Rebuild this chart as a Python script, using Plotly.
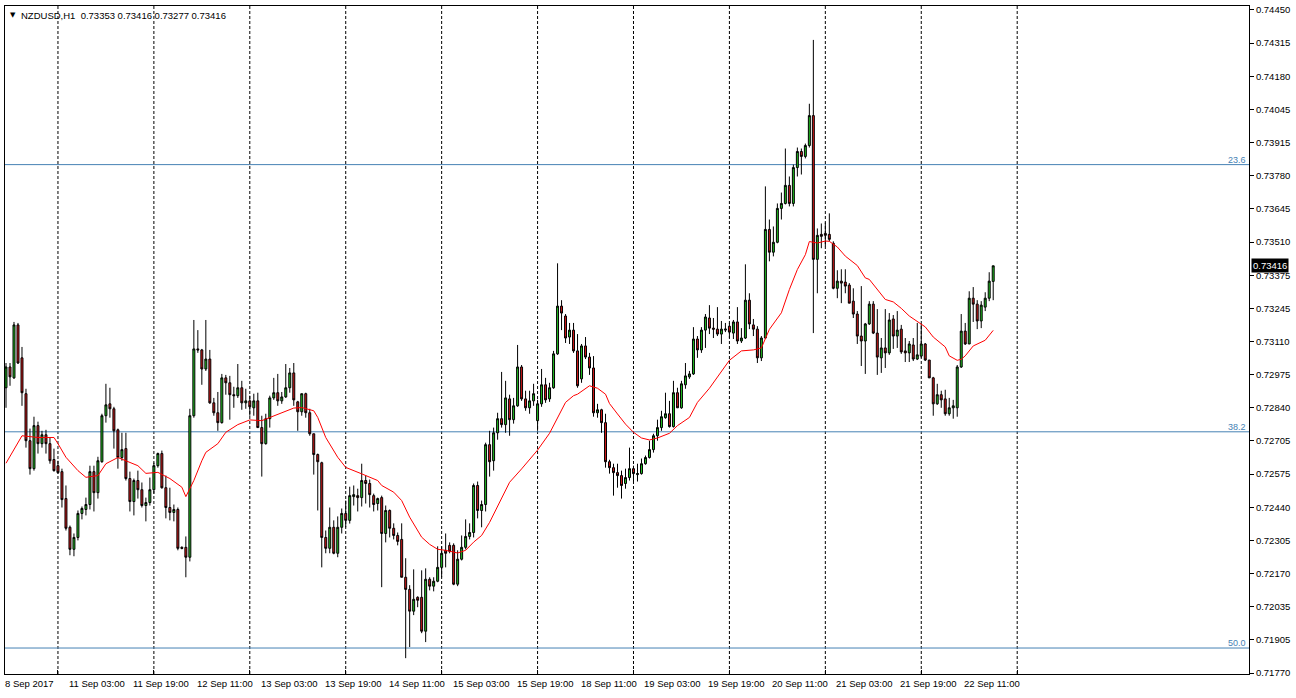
import plotly.graph_objects as go

# ---------------- data ----------------
open_ = [0.72923,0.73007,0.72963,0.73177,0.73044,0.72899,0.72709,0.72596,0.72770,0.72697,
0.72733,0.72697,0.72633,0.72608,0.72584,0.72475,0.72359,0.72270,0.72318,0.72415,
0.72431,0.72451,0.72584,0.72499,0.72624,0.72810,0.72858,0.72838,0.72753,0.72641,
0.72677,0.72556,0.72463,0.72548,0.72511,0.72447,0.72459,0.72511,0.72608,0.72657,
0.72519,0.72439,0.72419,0.72431,0.72278,0.72278,0.72238,0.72810,0.73080,0.73076,
0.72999,0.73039,0.72862,0.72822,0.72782,0.72963,0.72943,0.72895,0.72891,0.72923,
0.72862,0.72870,0.72842,0.72870,0.72762,0.72697,0.72798,0.72882,0.72903,0.72870,
0.72886,0.72923,0.72983,0.72866,0.72826,0.72899,0.72822,0.72737,0.72653,0.72620,
0.72318,0.72274,0.72359,0.72254,0.72359,0.72415,0.72387,0.72483,0.72487,0.72479,
0.72548,0.72536,0.72487,0.72455,0.72479,0.72334,0.72427,0.72355,0.72326,0.72310,
0.72157,0.72108,0.72020,0.72076,0.72076,0.71939,0.72149,0.72121,0.72141,0.72197,
0.72266,0.72286,0.72286,0.72129,0.72230,0.72278,0.72322,0.72338,0.72528,0.72427,
0.72451,0.72693,0.72628,0.72741,0.72798,0.72774,0.72878,0.72794,0.72850,0.73007,
0.72878,0.72842,0.72870,0.72790,0.72858,0.72935,0.72878,0.72923,0.73060,0.73253,
0.73213,0.73128,0.73156,0.73072,0.72959,0.73092,0.73047,0.73003,0.72822,0.72834,
0.72782,0.72624,0.72600,0.72580,0.72568,0.72536,0.72560,0.72596,0.72572,0.72576,
0.72616,0.72641,0.72673,0.72729,0.72762,0.72802,0.72818,0.72766,0.72903,0.72842,
0.72935,0.72967,0.72979,0.73120,0.73076,0.73156,0.73205,0.73164,0.73160,0.73140,
0.73156,0.73172,0.73144,0.73189,0.73112,0.73124,0.73277,0.73177,0.73160,0.73044,
0.73124,0.73563,0.73471,0.73511,0.73648,0.73668,0.73741,0.73668,0.73813,0.73878,
0.73858,0.73902,0.74023,0.73442,0.73543,0.73547,0.73543,0.73507,0.73325,0.73354,
0.73350,0.73338,0.73273,0.73221,0.73132,0.73112,0.73181,0.73261,0.73144,0.73044,
0.73084,0.73064,0.73201,0.73132,0.73160,0.73072,0.73064,0.73096,0.73039,0.73051,
0.73100,0.73035,0.72963,0.72858,0.72895,0.72878,0.72818,0.72842,0.72842,0.73007,
0.73152,0.73100,0.73285,0.73261,0.73193,0.73249,0.73285,0.73353]

high_ = [0.73023,0.73023,0.73189,0.73185,0.73088,0.72919,0.72758,0.72806,0.72786,0.72749,
0.72753,0.72721,0.72677,0.72628,0.72596,0.72528,0.72366,0.72334,0.72427,0.72443,
0.72479,0.72608,0.72608,0.72644,0.72818,0.72939,0.72923,0.72846,0.72758,0.72741,
0.72741,0.72584,0.72556,0.72588,0.72540,0.72479,0.72560,0.72620,0.72661,0.72669,
0.72568,0.72519,0.72451,0.72439,0.72282,0.72322,0.72838,0.73197,0.73156,0.73080,
0.73197,0.73076,0.72882,0.72906,0.72979,0.72975,0.72971,0.72927,0.73019,0.72951,
0.72919,0.72891,0.72899,0.72903,0.72810,0.72818,0.72891,0.72963,0.72979,0.72906,
0.73019,0.73003,0.73023,0.72870,0.72899,0.72903,0.72838,0.72737,0.72657,0.72624,
0.72346,0.72439,0.72387,0.72403,0.72435,0.72467,0.72523,0.72528,0.72515,0.72616,
0.72568,0.72552,0.72495,0.72479,0.72487,0.72447,0.72431,0.72375,0.72338,0.72375,
0.72234,0.72125,0.72189,0.72080,0.72185,0.72193,0.72157,0.72157,0.72282,0.72282,
0.72334,0.72298,0.72294,0.72266,0.72326,0.72391,0.72375,0.72536,0.72544,0.72467,
0.72701,0.72749,0.72762,0.72822,0.72987,0.72951,0.72895,0.72882,0.73096,0.73015,
0.72911,0.72911,0.72939,0.72874,0.72999,0.72963,0.72943,0.73072,0.73426,0.73277,
0.73221,0.73185,0.73185,0.73140,0.73100,0.73128,0.73064,0.73051,0.72858,0.72838,
0.72818,0.72632,0.72616,0.72616,0.72588,0.72596,0.72681,0.72608,0.72616,0.72637,
0.72649,0.72709,0.72737,0.72794,0.72830,0.72903,0.72870,0.72951,0.72923,0.72951,
0.73023,0.72991,0.73168,0.73132,0.73168,0.73221,0.73257,0.73205,0.73249,0.73193,
0.73185,0.73185,0.73197,0.73249,0.73164,0.73422,0.73305,0.73201,0.73172,0.73132,
0.73737,0.73603,0.73575,0.73668,0.73712,0.73890,0.73777,0.73825,0.73894,0.73890,
0.73910,0.74071,0.74329,0.73567,0.73587,0.73591,0.73628,0.73515,0.73398,0.73402,
0.73402,0.73346,0.73325,0.73233,0.73334,0.73185,0.73273,0.73273,0.73241,0.73124,
0.73241,0.73225,0.73217,0.73233,0.73177,0.73124,0.73112,0.73124,0.73185,0.73181,
0.73104,0.73035,0.72967,0.72939,0.72911,0.72915,0.72882,0.72874,0.73015,0.73221,
0.73185,0.73313,0.73330,0.73277,0.73273,0.73309,0.73390,0.73416]

low_ = [0.72842,0.72931,0.72959,0.73019,0.72850,0.72681,0.72572,0.72588,0.72657,0.72681,
0.72657,0.72616,0.72584,0.72576,0.72439,0.72346,0.72246,0.72242,0.72306,0.72391,
0.72407,0.72431,0.72423,0.72475,0.72620,0.72782,0.72802,0.72677,0.72596,0.72628,
0.72548,0.72423,0.72407,0.72475,0.72439,0.72383,0.72447,0.72495,0.72600,0.72515,
0.72395,0.72387,0.72383,0.72266,0.72270,0.72157,0.72221,0.72802,0.73064,0.72935,
0.72991,0.72858,0.72810,0.72749,0.72778,0.72895,0.72794,0.72842,0.72882,0.72834,
0.72838,0.72810,0.72810,0.72762,0.72564,0.72693,0.72762,0.72874,0.72850,0.72858,
0.72882,0.72903,0.72850,0.72749,0.72810,0.72802,0.72729,0.72572,0.72427,0.72197,
0.72254,0.72254,0.72250,0.72238,0.72334,0.72359,0.72374,0.72447,0.72423,0.72443,
0.72455,0.72439,0.72423,0.72427,0.72117,0.72298,0.72318,0.72310,0.72286,0.72157,
0.71830,0.71875,0.72004,0.72036,0.71931,0.71895,0.72104,0.72100,0.72137,0.72157,
0.72197,0.72254,0.72125,0.72121,0.72225,0.72270,0.72310,0.72318,0.72395,0.72359,
0.72423,0.72564,0.72588,0.72713,0.72762,0.72741,0.72729,0.72778,0.72846,0.72870,
0.72830,0.72818,0.72850,0.72749,0.72846,0.72862,0.72866,0.72919,0.73056,0.73156,
0.73104,0.73100,0.73064,0.72923,0.72943,0.73039,0.72975,0.72806,0.72802,0.72741,
0.72600,0.72576,0.72487,0.72519,0.72475,0.72515,0.72548,0.72544,0.72544,0.72572,
0.72612,0.72637,0.72661,0.72709,0.72749,0.72798,0.72762,0.72762,0.72842,0.72838,
0.72919,0.72959,0.72975,0.73044,0.73064,0.73084,0.73140,0.73124,0.73132,0.73100,
0.73148,0.73124,0.73120,0.73100,0.73104,0.73120,0.73160,0.73132,0.73023,0.73031,
0.73120,0.73434,0.73454,0.73507,0.73603,0.73664,0.73656,0.73656,0.73777,0.73785,
0.73850,0.73894,0.73144,0.73305,0.73487,0.73495,0.73515,0.73321,0.73285,0.73265,
0.73305,0.73265,0.73205,0.73100,0.73011,0.72979,0.73177,0.73140,0.72975,0.72983,
0.73003,0.73056,0.73080,0.73084,0.73060,0.73027,0.73027,0.73031,0.73035,0.73044,
0.73031,0.72963,0.72810,0.72854,0.72842,0.72810,0.72810,0.72798,0.72806,0.73003,
0.73096,0.73100,0.73189,0.73160,0.73164,0.73233,0.73273,0.73277]

close_ = [0.73007,0.72967,0.73177,0.73023,0.72903,0.72709,0.72596,0.72770,0.72697,0.72733,
0.72697,0.72628,0.72588,0.72580,0.72471,0.72355,0.72270,0.72318,0.72415,0.72435,
0.72451,0.72584,0.72499,0.72628,0.72810,0.72854,0.72838,0.72749,0.72641,0.72673,
0.72556,0.72463,0.72548,0.72511,0.72447,0.72459,0.72511,0.72608,0.72657,0.72519,
0.72439,0.72419,0.72431,0.72274,0.72274,0.72238,0.72810,0.73080,0.73076,0.72999,
0.73039,0.72862,0.72822,0.72782,0.72963,0.72943,0.72895,0.72891,0.72923,0.72862,
0.72870,0.72846,0.72870,0.72762,0.72697,0.72798,0.72882,0.72903,0.72870,0.72886,
0.72923,0.72983,0.72874,0.72826,0.72899,0.72822,0.72737,0.72653,0.72624,0.72318,
0.72274,0.72359,0.72254,0.72359,0.72415,0.72387,0.72487,0.72491,0.72479,0.72548,
0.72536,0.72491,0.72451,0.72475,0.72334,0.72427,0.72355,0.72326,0.72302,0.72157,
0.72108,0.72020,0.72068,0.72064,0.71939,0.72149,0.72121,0.72141,0.72197,0.72254,
0.72254,0.72262,0.72129,0.72230,0.72278,0.72322,0.72338,0.72528,0.72427,0.72451,
0.72693,0.72624,0.72741,0.72798,0.72774,0.72882,0.72794,0.72850,0.73007,0.72878,
0.72842,0.72870,0.72899,0.72858,0.72935,0.72874,0.72923,0.73060,0.73253,0.73225,
0.73124,0.73156,0.73072,0.72931,0.73092,0.73047,0.73003,0.72822,0.72834,0.72782,
0.72624,0.72600,0.72580,0.72568,0.72528,0.72560,0.72596,0.72576,0.72576,0.72616,
0.72641,0.72673,0.72729,0.72762,0.72806,0.72818,0.72766,0.72903,0.72842,0.72939,
0.72971,0.72979,0.73120,0.73076,0.73156,0.73209,0.73164,0.73160,0.73140,0.73160,
0.73160,0.73148,0.73189,0.73112,0.73124,0.73277,0.73181,0.73160,0.73044,0.73124,
0.73563,0.73471,0.73511,0.73648,0.73668,0.73741,0.73668,0.73813,0.73878,0.73858,
0.73902,0.74023,0.73442,0.73539,0.73535,0.73539,0.73523,0.73325,0.73354,0.73346,
0.73334,0.73265,0.73221,0.73132,0.73112,0.73181,0.73261,0.73144,0.73047,0.73084,
0.73064,0.73197,0.73132,0.73156,0.73068,0.73064,0.73100,0.73039,0.73056,0.73100,
0.73035,0.72963,0.72858,0.72895,0.72874,0.72818,0.72842,0.72850,0.73007,0.73152,
0.73100,0.73285,0.73261,0.73193,0.73257,0.73285,0.73354,0.73416]

# moving average (red line) read at selected bars
ma_bar = [0,4,8,12,13,15,18,20,23,25,28,30,33,35,38,41,44,45,47,49,
50,53,55,58,61,64,69,72,74,77,78,80,83,85,89,90,93,94,97,99,
101,104,106,108,110,113,115,117,119,121,124,126,129,131,133,136,138,140,142,143,
146,148,150,151,153,155,157,159,161,163,166,168,171,173,176,178,181,184,187,189,
191,194,196,198,200,201,203,205,206,208,210,213,215,216,218,220,222,224,226,228,
230,232,235,236,238,239,240,242,245,247]
ma_val = [0.72618,0.72729,0.72722,0.72722,0.72697,0.72642,0.72588,0.72561,0.72568,0.72616,
0.72641,0.72628,0.72608,0.72577,0.72581,0.72556,0.72521,0.72483,0.72548,0.72628,
0.72662,0.72697,0.72743,0.72774,0.72793,0.72790,0.72823,0.72841,0.72843,0.72830,
0.72803,0.72722,0.72642,0.72601,0.72575,0.72568,0.72548,0.72528,0.72501,0.72467,
0.72400,0.72319,0.72290,0.72270,0.72266,0.72255,0.72266,0.72299,0.72326,0.72379,
0.72474,0.72541,0.72595,0.72635,0.72671,0.72739,0.72803,0.72864,0.72891,0.72897,
0.72931,0.72921,0.72897,0.72859,0.72817,0.72776,0.72743,0.72720,0.72712,0.72720,
0.72739,0.72770,0.72803,0.72864,0.72921,0.72967,0.73034,0.73072,0.73076,0.73084,
0.73159,0.73226,0.73320,0.73401,0.73461,0.73514,0.73508,0.73516,0.73515,0.73492,
0.73455,0.73417,0.73367,0.73361,0.73320,0.73280,0.73270,0.73244,0.73213,0.73190,
0.73169,0.73128,0.73088,0.73052,0.73034,0.73038,0.73052,0.73092,0.73115,0.73155]

# Fibonacci retracement levels
fib_names = ["23.6", "38.2", "50.0"]
fib_levels = [0.73825, 0.72745, 0.71871]

# day separators (bar index of each day start)
separator_bars = [13, 37, 61, 85, 109, 133, 157, 181, 205, 229, 253]

# time-axis labels
x_label_bars = [0, 16, 32, 48, 64, 80, 96, 112, 128, 144, 160, 176, 192, 208, 224, 240]
x_label_text = ["8 Sep 2017", "11 Sep 03:00", "11 Sep 19:00", "12 Sep 11:00", "13 Sep 03:00",
                "13 Sep 19:00", "14 Sep 11:00", "15 Sep 03:00", "15 Sep 19:00", "18 Sep 11:00",
                "19 Sep 03:00", "19 Sep 19:00", "20 Sep 11:00", "21 Sep 03:00", "21 Sep 19:00",
                "22 Sep 11:00"]

# price-axis ticks
y_tick_vals = [0.74450, 0.74316, 0.74182, 0.74048, 0.73914, 0.73780, 0.73646, 0.73512, 0.73378,
               0.73244, 0.73110, 0.72976, 0.72842, 0.72708, 0.72574, 0.72440, 0.72306, 0.72172,
               0.72038, 0.71904, 0.71770]
y_tick_text = ["0.74450", "0.74315", "0.74180", "0.74045", "0.73915", "0.73780", "0.73645",
               "0.73510", "0.73375", "0.73245", "0.73110", "0.72975", "0.72840", "0.72705",
               "0.72575", "0.72440", "0.72305", "0.72170", "0.72035", "0.71905", "0.71770"]

symbol_title = "NZDUSD,H1"
last_price_text = "0.73416"

n = len(open_)
assert n == len(high_) == len(low_) == len(close_)
assert len(ma_bar) == len(ma_val)
bars = list(range(n))

FONT = "Liberation Sans"
FIB_COLOR = "#4682B4"

fig = go.Figure()

fig.add_trace(go.Candlestick(
    x=bars, open=open_, high=high_, low=low_, close=close_,
    increasing=dict(fillcolor="#22c022", line=dict(color="black", width=1)),
    decreasing=dict(fillcolor="#d01818", line=dict(color="black", width=1)),
    whiskerwidth=0, showlegend=False, hoverinfo="skip",
))

fig.add_trace(go.Scatter(
    x=ma_bar, y=ma_val, mode="lines",
    line=dict(color="#ff0000", width=1), showlegend=False, hoverinfo="skip",
))

shapes = []
for b in separator_bars:
    shapes.append(dict(type="line", xref="x", yref="paper", x0=b, x1=b, y0=0, y1=1,
                       line=dict(color="black", width=1, dash="3px,2px"), layer="below"))
for lv in fib_levels:
    shapes.append(dict(type="line", xref="paper", yref="y", x0=0, x1=1, y0=lv, y1=lv,
                       line=dict(color=FIB_COLOR, width=1), layer="below"))

annotations = []
for name, lv in zip(fib_names, fib_levels):
    annotations.append(dict(xref="paper", yref="y", x=1, y=lv, xanchor="right", yanchor="bottom",
                            text=name, showarrow=False, xshift=-1, yshift=-2,
                            font=dict(family=FONT, size=9, color=FIB_COLOR)))
for b, t in zip(x_label_bars, x_label_text):
    annotations.append(dict(xref="x", yref="paper", x=b, y=0, xanchor="left", yanchor="top",
                            text=t, showarrow=False, xshift=-3, yshift=-2,
                            font=dict(family=FONT, size=9.5, color="black")))
annotations.append(dict(xref="paper", yref="paper", x=0, y=1, xanchor="left", yanchor="top",
                        text="▼", showarrow=False, xshift=3, yshift=-3,
                        font=dict(family="DejaVu Sans", size=7, color="black")))
annotations.append(dict(xref="paper", yref="paper", x=0, y=1, xanchor="left", yanchor="top",
                        text=f"{symbol_title}  {open_[-1]:.5f} {high_[-1]:.5f} {low_[-1]:.5f} {close_[-1]:.5f}",
                        showarrow=False, xshift=14, yshift=-2,
                        font=dict(family=FONT, size=9.5, color="black")))
annotations.append(dict(xref="paper", yref="y", x=1, y=close_[-1], xanchor="left", yanchor="middle",
                        text=last_price_text, showarrow=False, xshift=2, bgcolor="black",
                        borderpad=1, font=dict(family=FONT, size=9.5, color="white")))

fig.update_layout(
    width=1296, height=698, autosize=False,
    margin=dict(l=4, r=47, t=4, b=24, pad=0),
    paper_bgcolor="white", plot_bgcolor="white",
    showlegend=False,
    shapes=shapes, annotations=annotations,
    xaxis=dict(range=[-0.25, 311], showgrid=False, zeroline=False,
               rangeslider=dict(visible=False),
               tickmode="array", tickvals=separator_bars, ticktext=[""] * len(separator_bars),
               ticks="inside", ticklen=4, tickcolor="black",
               showline=True, linecolor="black", linewidth=1, mirror=True),
    yaxis=dict(range=[0.717660, 0.744661], side="right", showgrid=False, zeroline=False,
               tickmode="array", tickvals=y_tick_vals, ticktext=y_tick_text,
               ticks="outside", ticklen=4, tickcolor="black",
               tickfont=dict(family=FONT, size=9.5, color="black"),
               showline=True, linecolor="black", linewidth=1, mirror=True),
)

fig.write_html("out.html",
               config={"displayModeBar": False, "staticPlot": True},
               post_script="document.body.style.margin='0';document.body.style.padding='0';"
                           "document.body.style.overflow='hidden';")
